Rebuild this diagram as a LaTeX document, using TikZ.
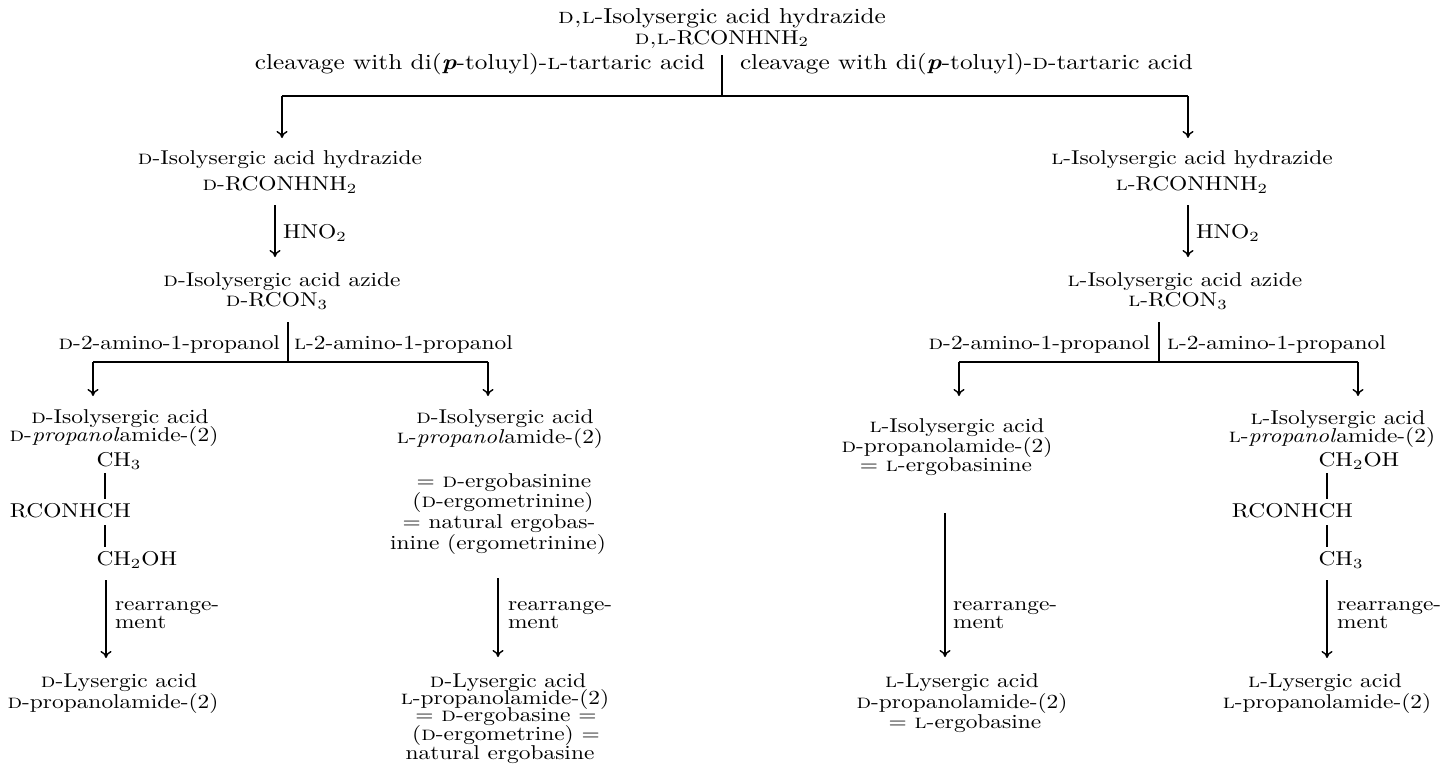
\documentclass[tikz,border=0pt]{standalone}
\usetikzlibrary{arrows.meta}
\tikzset{
  txt/.style={inner sep=0pt, outer sep=0pt, xscale=1.17, font=\fontsize{10}{10}\selectfont},
  bigtxt/.style={txt, font=\fontsize{10.8}{10.8}\selectfont},
  ln/.style={line width=0.7pt},
  arr/.style={line width=0.7pt, -{To[length=3.5pt,width=5.5pt]}},
  bond/.style={line width=0.7pt, shorten <=2pt, shorten >=2pt},
}
\newcommand{\sD}{\textsc{d}}
\newcommand{\sL}{\textsc{l}}
\begin{document}
\begin{tikzpicture}[x=0.5pt,y=-0.5pt]
\useasboundingbox (0,0) rectangle (1444,776);
% ---------- top ----------
\node[bigtxt,anchor=base] (t1) at (722,24) {\textsc{d,l}-Isolysergic acid hydrazide};
\node[txt,anchor=base] (t2) at (722,44) {\textsc{d,l}-RCONHNH$_2$};
\coordinate (s0a) at (722,55);
\coordinate (s0b) at (722,96);
\draw[ln] (s0a) -- (s0b);
\node[bigtxt,anchor=base east] (cL) at (705,69) {cleavage with di(\textbf{\textit{p}}-toluyl)-\sL-tartaric acid};
\node[bigtxt,anchor=base west] (cR) at (740,69) {cleavage with di(\textbf{\textit{p}}-toluyl)-\sD-tartaric acid};
\coordinate (j0L) at (282,96);
\coordinate (j0R) at (1188,96);
\coordinate (e0L) at (282,138);
\coordinate (e0R) at (1188,138);
\draw[ln] (j0L) -- (j0R);
\draw[arr] (j0L) -- (e0L);
\draw[arr] (j0R) -- (e0R);
% ---------- left branch ----------
\node[txt,anchor=base] (dh1) at (280,164) {\sD-Isolysergic acid hydrazide};
\node[txt,anchor=base] (dh2) at (280,190) {\sD-RCONHNH$_2$};
\coordinate (hL1) at (275,205);
\coordinate (hL2) at (275,257);
\draw[arr] (hL1) -- (hL2);
\node[txt,anchor=base west] (hnoL) at (283,238) {HNO$_2$};
\node[txt,anchor=base] (da1) at (282,286) {\sD-Isolysergic acid azide};
\node[txt,anchor=base] (da2) at (277,306) {\sD-RCON$_3$};
\coordinate (s1La) at (288,322);
\coordinate (s1Lb) at (288,362);
\draw[ln] (s1La) -- (s1Lb);
\node[txt,anchor=base east] (pDL) at (280,349) {\sD-2-amino-1-propanol};
\node[txt,anchor=base west] (pLL) at (294,349) {\sL-2-amino-1-propanol};
\coordinate (j1a) at (93,362);
\coordinate (j1b) at (488,362);
\coordinate (e1a) at (93,396);
\coordinate (e1b) at (488,396);
\draw[ln] (j1a) -- (j1b);
\draw[arr] (j1a) -- (e1a);
\draw[arr] (j1b) -- (e1b);
% column 1
\node[txt,anchor=base] (c1a) at (120,423) {\sD-Isolysergic acid};
\node[txt,anchor=base] (c1b) at (114,441) {\sD-\textit{propanol}amide-(2)};
\node[txt,anchor=base] (c1c) at (105,466) {C\rlap{H$_3$}};
\node[txt,anchor=base] (c1d) at (105,517) {\llap{RCONH}C\rlap{H}};
\node[txt,anchor=base] (c1e) at (105,565) {C\rlap{H$_2$OH}};
\draw[bond] (c1c.south) -- (c1d.north);
\draw[bond, shorten <=4pt] (c1d.south) -- (c1e.north);
\coordinate (r1a) at (106,580);
\coordinate (r1b) at (106,658);
\draw[arr] (r1a) -- (r1b);
\node[txt,anchor=base west] (r1l) at (115,610) {rearrange-};
\node[txt,anchor=base west] (r1m) at (115,628) {ment};
\node[txt,anchor=base] (c1f) at (119,687) {\sD-Lysergic acid};
\node[txt,anchor=base] (c1g) at (113,708) {\sD-propanolamide-(2)};
% column 2
\node[txt,anchor=base] (c2a) at (505,423) {\sD-Isolysergic acid};
\node[txt,anchor=base] (c2b) at (500,443) {\sL-\textit{propanol}amide-(2)};
\node[txt,anchor=base] (c2c) at (504,487) {= \sD-ergobasinine};
\node[txt,anchor=base] (c2d) at (503,507) {(\sD-ergometrinine)};
\node[txt,anchor=base] (c2e) at (499,528) {= natural ergobas-};
\node[txt,anchor=base] (c2f) at (498,549) {inine (ergometrinine)};
\coordinate (r2a) at (498,578);
\coordinate (r2b) at (498,657);
\draw[arr] (r2a) -- (r2b);
\node[txt,anchor=base west] (r2l) at (508,610) {rearrange-};
\node[txt,anchor=base west] (r2m) at (508,628) {ment};
\node[txt,anchor=base] (c2g) at (508,687) {\sD-Lysergic acid};
\node[txt,anchor=base] (c2h) at (505,704) {\sL-propanolamide-(2)};
\node[txt,anchor=base] (c2i) at (506,721) {= \sD-ergobasine =};
\node[txt,anchor=base] (c2j) at (506,740) {(\sD-ergometrine) =};
\node[txt,anchor=base] (c2k) at (500,759) {natural ergobasine};
% ---------- right branch ----------
\node[txt,anchor=base] (lh1) at (1192,164) {\sL-Isolysergic acid hydrazide};
\node[txt,anchor=base] (lh2) at (1192,190) {\sL-RCONHNH$_2$};
\coordinate (hR1) at (1188,205);
\coordinate (hR2) at (1188,257);
\draw[arr] (hR1) -- (hR2);
\node[txt,anchor=base west] (hnoR) at (1196,238) {HNO$_2$};
\node[txt,anchor=base] (la1) at (1185,286) {\sL-Isolysergic acid azide};
\node[txt,anchor=base] (la2) at (1178,306) {\sL-RCON$_3$};
\coordinate (s1Ra) at (1159,322);
\coordinate (s1Rb) at (1159,362);
\draw[ln] (s1Ra) -- (s1Rb);
\node[txt,anchor=base east] (pDR) at (1150,349) {\sD-2-amino-1-propanol};
\node[txt,anchor=base west] (pLR) at (1167,349) {\sL-2-amino-1-propanol};
\coordinate (j2a) at (959,362);
\coordinate (j2b) at (1358,362);
\coordinate (e2a) at (959,396);
\coordinate (e2b) at (1358,396);
\draw[ln] (j2a) -- (j2b);
\draw[arr] (j2a) -- (e2a);
\draw[arr] (j2b) -- (e2b);
% column 3
\node[txt,anchor=base] (c3a) at (957,432) {\sL-Isolysergic acid};
\node[txt,anchor=base] (c3b) at (947,452) {\sD-propanolamide-(2)};
\node[txt,anchor=base] (c3c) at (946,471) {= \sL-ergobasinine};
\coordinate (r3a) at (945,513);
\coordinate (r3b) at (945,657);
\draw[arr] (r3a) -- (r3b);
\node[txt,anchor=base west] (r3l) at (953,610) {rearrange-};
\node[txt,anchor=base west] (r3m) at (953,628) {ment};
\node[txt,anchor=base] (c3d) at (962,687) {\sL-Lysergic acid};
\node[txt,anchor=base] (c3e) at (962,708) {\sD-propanolamide-(2)};
\node[txt,anchor=base] (c3f) at (965,728) {= \sL-ergobasine};
% column 4
\node[txt,anchor=base] (c4a) at (1338,424) {\sL-Isolysergic acid};
\node[txt,anchor=base] (c4b) at (1332,442) {\sL-\textit{propanol}amide-(2)};
\node[txt,anchor=base] (c4c) at (1327,466) {C\rlap{H$_2$OH}};
\node[txt,anchor=base] (c4d) at (1327,517) {\llap{RCONH}C\rlap{H}};
\node[txt,anchor=base] (c4e) at (1327,565) {C\rlap{H$_3$}};
\draw[bond] (c4c.south) -- (c4d.north);
\draw[bond, shorten <=4pt] (c4d.south) -- (c4e.north);
\coordinate (r4a) at (1327,580);
\coordinate (r4b) at (1327,658);
\draw[arr] (r4a) -- (r4b);
\node[txt,anchor=base west] (r4l) at (1337,610) {rearrange-};
\node[txt,anchor=base west] (r4m) at (1337,628) {ment};
\node[txt,anchor=base] (c4f) at (1325,687) {\sL-Lysergic acid};
\node[txt,anchor=base] (c4g) at (1327,708) {\sL-propanolamide-(2)};
\end{tikzpicture}
\end{document}
